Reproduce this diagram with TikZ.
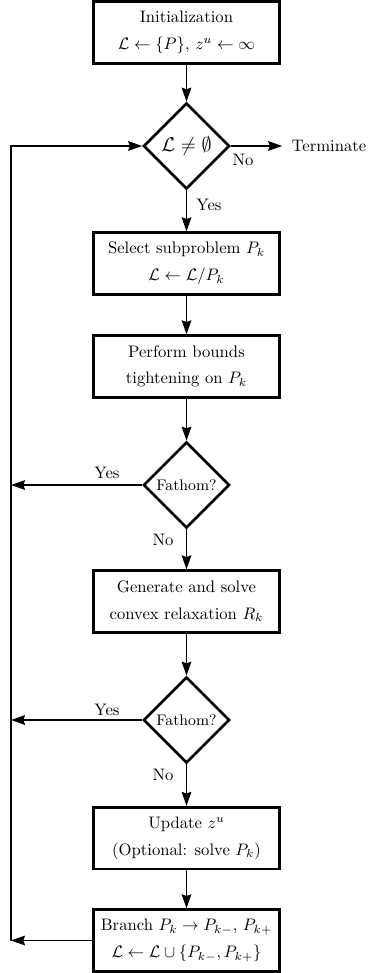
\documentclass[tikz,border=0pt]{standalone}
\usetikzlibrary{shapes.geometric,arrows.meta}
\begin{document}
\begin{tikzpicture}[x=0.6pt,y=-0.6pt,
  procbox/.style={draw,line width=1.6pt,minimum width=111.6pt,minimum height=37pt,align=center,inner sep=2pt,font=\fontsize{10}{16}\selectfont},
  decision/.style={draw,diamond,line width=1.6pt,aspect=1,minimum size=51.6pt,inner sep=0pt},
  flow/.style={line width=0.9pt,-{Stealth[length=8.4pt,width=5.8pt,inset=1pt]}},
  lbl/.style={font=\fontsize{10}{12}\selectfont,inner sep=0pt}]
\useasboundingbox (0,0) rectangle (367,973);
\node[procbox] (b1) at (186.5,32.5) {Initialization\\$\mathcal{L}\leftarrow\{P\}$, $z^u\leftarrow\infty$};
\node[decision] (d1) at (186.5,146) {\large$\mathcal{L}\neq\emptyset$};
\node[procbox] (b2) at (186.5,263.5) {Select subproblem $P_k$\\$\mathcal{L}\leftarrow\mathcal{L}/P_k$};
\node[procbox] (b3) at (186.5,366.5) {Perform bounds\\tightening on $P_k$};
\node[decision,font=\fontsize{9.2}{11}\selectfont] (d2) at (186.5,485) {Fathom?};
\node[procbox] (b4) at (186.5,601.5) {Generate and solve\\convex relaxation $R_k$};
\node[decision,font=\fontsize{9.2}{11}\selectfont] (d3) at (186.5,720) {Fathom?};
\node[procbox] (b5) at (186.5,838) {Update $z^u$\\(Optional: solve $P_k$)};
\node[procbox] (b6) at (186.5,940.5) {Branch $P_k\rightarrow P_{k-}$, $P_{k+}$\\$\mathcal{L}\leftarrow\mathcal{L}\cup\{P_{k-},P_{k+}\}$};
\node[lbl,inner sep=5.5pt] (term) at (329,146) {Terminate};
\coordinate (L) at (11,0);
\draw[flow] (b1) -- (d1);
\draw[flow] (d1) -- (term.west);
\draw[flow] (d1) -- (b2);
\draw[flow] (b2) -- (b3);
\draw[flow] (b3) -- (d2);
\draw[flow] (d2) -- (b4);
\draw[flow] (b4) -- (d3);
\draw[flow] (d3) -- (b5);
\draw[flow] (b5) -- (b6);
\draw[flow] (d2.west) -- (d2.west -| L);
\draw[flow] (d3.west) -- (d3.west -| L);
\draw[flow] (b6.west) -- (b6.west -| L);
\draw[flow] (b6.west -| L) -- (d1.west -| L) -- (d1.west);
\node[lbl] (n1) at (243,160) {No};
\node[lbl] (y1) at (209,205) {Yes};
\node[lbl] (y2) at (107,473) {Yes};
\node[lbl] (n2) at (163,540) {No};
\node[lbl] (y3) at (107,710) {Yes};
\node[lbl] (n3) at (163,775) {No};
\end{tikzpicture}
\end{document}
